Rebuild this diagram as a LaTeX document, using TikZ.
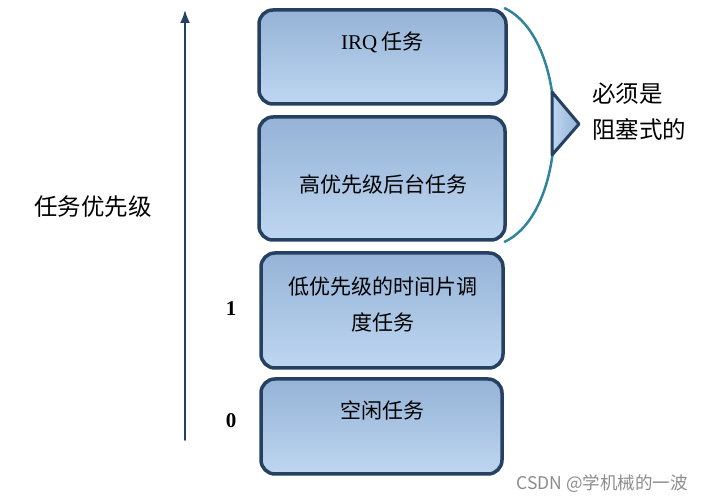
\documentclass[tikz,border=0pt]{standalone}
\usepackage{fontspec}
\setmainfont{Liberation Serif}
\newfontfamily\cjk{Noto Sans CJK SC}
\usetikzlibrary{arrows.meta}
\definecolor{boxline}{RGB}{38,64,97}
\definecolor{boxtop}{RGB}{149,179,215}
\definecolor{boxbot}{RGB}{190,214,240}
\definecolor{bracecol}{RGB}{49,133,155}
\begin{document}
\begin{tikzpicture}[x=1pt,y=-1pt,line cap=round,line join=round,
  task/.style={draw=boxline,line width=3.5pt,rounded corners=14pt,
    top color=boxtop,bottom color=boxbot,inner sep=0pt},
  tasktext/.style={font=\cjk\fontsize{21}{36}\selectfont,align=center,inner sep=0pt},
  side/.style={font=\cjk\fontsize{23.5}{36}\selectfont,inner sep=0pt},
  level/.style={font=\bfseries\fontsize{21}{24}\selectfont,inner sep=0pt}]
  \useasboundingbox (0,0) rectangle (713,502);

  % task boxes, highest priority on top
  \node[task,minimum width=247,minimum height=94] (irq) at (382.5,57) {};
  \node[task,minimum width=246,minimum height=123] (bg) at (382,178.5) {};
  \node[task,minimum width=242,minimum height=115] (slice) at (382,310.5) {};
  \node[task,minimum width=241,minimum height=95] (idle) at (381.5,426.5) {};

  \node[tasktext] (irqtext) at (382.5,42) {{\rmfamily IRQ} 任务};
  \node[tasktext] (bgtext) at (383,185) {高优先级后台任务};
  \node[tasktext] (slicetext) at (383,304) {低优先级的时间片调\\度任务};
  \node[tasktext] (idletext) at (382,410) {空闲任务};

  % priority axis
  \coordinate (low) at (185,440);
  \coordinate (high) at (185,10);
  \draw[-{Latex[length=13pt,width=10pt]},line width=1.8pt,boxline] (low) -- (high);
  \node[side] (prio) at (93,207) {任务优先级};
  \node[level] (one) at (231,309) {1};
  \node[level] (zero) at (231,421) {0};

  % brace over the blocking tasks
  \draw[bracecol,line width=2.5pt]
    ([xshift=-3pt]irq.north east) .. controls (571,40) and (571,210) .. ([xshift=-2pt]bg.south east);
  \coordinate (tipa) at (552,92);
  \coordinate (tipb) at (552,155);
  \coordinate (tipc) at (579,124);
  \draw[boxline,line width=3pt,left color=boxbot,right color=boxtop]
    (tipa) -- (tipc) -- (tipb) -- cycle;
  \node[side,align=left,anchor=west] (block) at (592,112)
    {必须是\\阻塞式的};

  \node[font=\cjk\fontsize{17.5}{18}\selectfont,text=black!45,inner sep=0pt] (mark) at (602,484)
    {CSDN @学机械的一波};
\end{tikzpicture}
\end{document}
